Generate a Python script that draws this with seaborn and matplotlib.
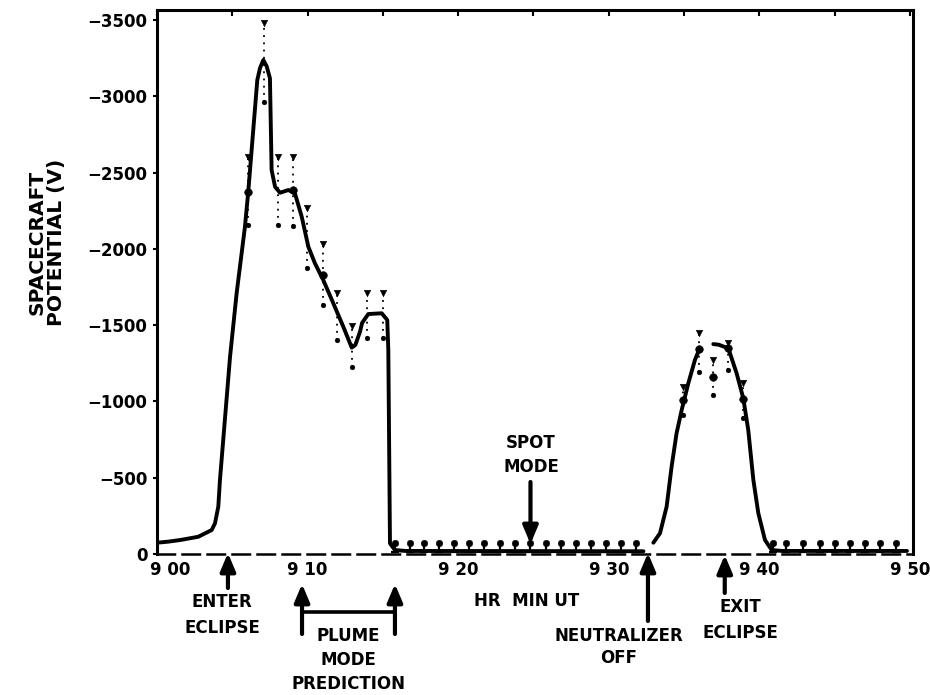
import numpy as np
import pandas as pd
import matplotlib
matplotlib.use("Agg")
import matplotlib.pyplot as plt
import seaborn as sns
from matplotlib.transforms import blended_transform_factory, ScaledTranslation

# ---------------- data (minutes after 9:00 UT, potential in volts) ----------------
# continuous trace, segment A: pre-eclipse, plume peak, flat spot-mode part
seg_a_t = [0.0, 0.75, 1.57, 2.74, 3.63, 3.85, 4.07, 4.18, 4.85, 5.29, 5.84, 6.06, 6.66,
           6.84, 7.06, 7.28, 7.5, 7.61, 7.84, 8.17, 8.72, 9.16, 9.61, 10.05, 10.49, 11.04,
           11.71, 12.37, 12.93, 13.17, 13.48, 13.62, 14.03, 14.92, 15.29, 15.36, 15.47,
           15.8, 16.5, 32.3]
seg_a_v = [-74, -81, -92, -113, -157, -201, -310, -485, -1293, -1711, -2145, -2375, -3107,
           -3185, -3238, -3198, -3118, -2517, -2407, -2368, -2386, -2364, -2211, -2014, -1905, -1796,
           -1643, -1490, -1353, -1370, -1457, -1515, -1573, -1578, -1534, -1337, -70,
           -26, -20, -18]
# segment B: rise of the second (exit-eclipse) hump
seg_b_t = [32.96, 33.4, 33.84, 34.17, 34.5, 34.84, 35.28, 35.72, 36.01]
seg_b_v = [-74, -136, -310, -572, -791, -944, -1119, -1272, -1342]
# segment C: fall of the second hump and flat tail
seg_c_t = [36.94, 37.3, 37.94, 38.49, 38.93, 39.26, 39.6, 39.93, 40.37, 40.82, 41.5, 49.8]
seg_c_v = [-1376, -1372, -1348, -1184, -1021, -813, -485, -267, -92, -26, -20, -20]

# measurement ranges during the plume-mode period
plume_t = [6.06, 7.1, 8.05, 9.05, 9.99, 11.0, 11.95, 12.93, 13.97, 14.99]
plume_hi = [-2604, -3478, -2604, -2604, -2266, -2032, -1709, -1494, -1709, -1709]
plume_lo = [-2156, -2965, -2156, -2149, -1873, -1632, -1406, -1229, -1414, -1414]
plume_mid_t = [6.06, 9.05, 11.0]
plume_mid_v = [-2375, -2383, -1829]

# measurement ranges near exit of eclipse
exit_t = [34.9, 36.0, 36.94, 37.94, 38.9]
exit_hi = [-1097, -1447, -1272, -1385, -1119]
exit_mid = [-1009, -1342, -1158, -1348, -1014]
exit_lo = [-911, -1195, -1042, -1206, -889]

# low-level (spot mode) samples
pin_t = [15.8, 16.8, 17.7, 18.7, 19.7, 20.7, 21.7, 22.8, 23.8, 24.8, 25.8, 26.8, 27.8,
         28.8, 29.8, 30.8, 31.8, 40.9, 41.8, 42.9, 44.0, 45.0, 46.0, 47.0, 48.0, 49.1]
pin_v = [-70, -70, -70, -70, -70, -70, -70, -70, -70, -70, -70, -70, -70,
         -70, -70, -70, -70, -70, -70, -70, -70, -70, -70, -70, -70, -70]

x_ticks = [0, 10, 20, 30, 40, 50]
x_tick_labels = ["9 00", "9 10", "9 20", "9 30", "9 40", "9 50"]
y_ticks = [0, -500, -1000, -1500, -2000, -2500, -3000, -3500]
y_tick_labels = ["0", "\u2212500", "\u22121000", "\u22121500", "\u22122000",
                 "\u22122500", "\u22123000", "\u22123500"]

# event markers (minutes)
enter_eclipse_t = 4.71
plume_start_t = 9.63
plume_end_t = 15.8
spot_mode_t = 24.8
neutralizer_off_t = 32.6
exit_eclipse_t = 37.7

# ---------------- figure ----------------
sns.set_theme(style="white")
plt.rcParams["font.family"] = ["DejaVu Sans"]
plt.rcParams["font.weight"] = "bold"

W, H = 930, 695
fig = plt.figure(figsize=(W / 100, H / 100), dpi=100)
ax_l, ax_r, ax_t, ax_b = 157, 913, 10, 554
ax = fig.add_axes([ax_l / W, 1 - ax_b / H, (ax_r - ax_l) / W, (ax_b - ax_t) / H])

curve = pd.concat([
    pd.DataFrame({"t": seg_a_t, "v": seg_a_v, "seg": "a"}),
    pd.DataFrame({"t": seg_b_t, "v": seg_b_v, "seg": "b"}),
    pd.DataFrame({"t": seg_c_t, "v": seg_c_v, "seg": "c"}),
])
sns.lineplot(data=curve, x="t", y="v", units="seg", estimator=None, sort=False,
             color="black", lw=2.8, ax=ax, legend=False)

# range bars
for t, hi, lo in zip(plume_t + exit_t, plume_hi + exit_hi, plume_lo + exit_lo):
    ax.plot([t, t], [lo, hi], ls=(0, (1, 3)), lw=1.3, color="black")
hi_df = pd.DataFrame({"t": plume_t + exit_t, "v": plume_hi + exit_hi})
lo_df = pd.DataFrame({"t": plume_t + exit_t, "v": plume_lo + exit_lo})
mid_df = pd.DataFrame({"t": plume_mid_t + exit_t, "v": plume_mid_v + exit_mid})
sns.scatterplot(data=hi_df, x="t", y="v", marker="v", s=22, color="black",
                edgecolor="black", ax=ax, legend=False)
sns.scatterplot(data=lo_df, x="t", y="v", marker="o", s=12, color="black",
                edgecolor="black", ax=ax, legend=False)
sns.scatterplot(data=mid_df, x="t", y="v", marker="o", s=30, color="black",
                edgecolor="black", ax=ax, legend=False)

# spot-mode pins
ax.vlines(pin_t, [-12] * len(pin_t), pin_v, color="black", lw=1.6)
sns.scatterplot(x=pin_t, y=pin_v, marker="o", s=22, color="black", edgecolor="black",
                ax=ax, legend=False)
sns.scatterplot(x=pin_t, y=[-12] * len(pin_t), marker="_", s=40, color="black",
                linewidth=1.6, ax=ax, legend=False)

ax.set_xlim(0, 50.2)
ax.set_ylim(0, -3566)
ax.set_xlabel("")
ax.set_ylabel("")

ax.set_xticks(x_ticks)
ax.set_xticklabels(x_tick_labels, fontsize=12, fontweight="bold")
ax.set_yticks(y_ticks)
ax.set_yticklabels(y_tick_labels, fontsize=12, fontweight="bold")
ax.set_xticks([5, 15, 25, 35, 45], minor=True)
ax.tick_params(axis="x", which="both", bottom=False, top=True, direction="in",
               length=4, width=1.5, pad=5, colors="black")
ax.tick_params(axis="y", left=True, direction="out", length=3, width=1.5, pad=4,
               colors="black")
first = ax.get_xticklabels()[0]
first.set_transform(first.get_transform() + ScaledTranslation(0.13, 0, fig.dpi_scale_trans))

for s in ["left", "top", "right"]:
    ax.spines[s].set_linewidth(2.2)
    ax.spines[s].set_color("black")
ax.spines["bottom"].set_linewidth(1.8)
ax.spines["bottom"].set_color("black")
ax.spines["bottom"].set_linestyle((0, (7, 3)))

# ---------------- annotations ----------------
bt = blended_transform_factory(ax.transData, fig.transFigure)


def fy(py):
    return 1 - py / H


def tx(px):
    return (px - ax_l) / (ax_r - ax_l) * 50.2


arrow = dict(arrowstyle="-|>,head_length=0.9,head_width=0.38", lw=3.0, color="black",
             shrinkA=0, shrinkB=0)


def up_arrow(t, tail_py, tip_py):
    ax.annotate("", xy=(t, fy(tip_py)), xytext=(t, fy(tail_py)), xycoords=bt,
                textcoords=bt, arrowprops=arrow, annotation_clip=False)


txt = dict(ha="center", va="center", fontsize=12, fontweight="bold", color="black",
           transform=bt, clip_on=False)

up_arrow(enter_eclipse_t, 588, 553)
ax.text(tx(222), fy(615), "ENTER\nECLIPSE", linespacing=1.55, **txt)

up_arrow(plume_start_t, 634, 584)
up_arrow(plume_end_t, 634, 584)
ax.plot([plume_start_t, plume_end_t], [fy(612), fy(612)], transform=bt, color="black",
        lw=2.6, clip_on=False, solid_capstyle="butt")
ax.text(tx(348), fy(660), "PLUME\nMODE\nPREDICTION", linespacing=1.4, **txt)

ax.text(tx(527), fy(601), "HR  MIN UT", **txt)

ax.annotate("", xy=(spot_mode_t, fy(544)), xytext=(spot_mode_t, fy(482)), xycoords=bt,
            textcoords=bt, arrowprops=arrow, annotation_clip=False)
ax.text(tx(531), fy(455), "SPOT\nMODE", linespacing=1.45, **txt)

up_arrow(neutralizer_off_t, 621, 553)
ax.text(tx(619), fy(647), "NEUTRALIZER\nOFF", linespacing=1.25, **txt)

up_arrow(exit_eclipse_t, 593, 555)
ax.text(tx(740), fy(620), "EXIT\nECLIPSE", linespacing=1.5, **txt)

fig.text(47 / W, fy(242), "SPACECRAFT\nPOTENTIAL (V)", rotation=90, ha="center",
         va="center", fontsize=14.5, fontweight="bold", linespacing=1.0, color="black")

fig.savefig("out.png", dpi=100, facecolor="white")
